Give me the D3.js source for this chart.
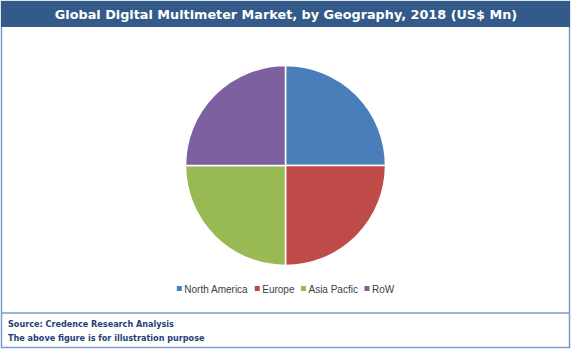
<!DOCTYPE html>
<html>
<head>
<meta charset="utf-8">
<script src="https://cdn.jsdelivr.net/npm/d3@7"></script>
<style>
  body { margin: 0; background: #fff; }
</style>
</head>
<body>
<div id="chart"></div>
<script>
// chart data
const regions = ["North America", "Europe", "Asia Pacfic", "RoW"];
const shares = [25, 25, 25, 25];
const regionColors = ["#4a7ebb", "#be4b48", "#98b954", "#7d60a0"];

const titleText = "Global Digital Multimeter Market, by Geography, 2018 (US$ Mn)";
const notes = ["Source: Credence Research Analysis", "The above figure is for illustration purpose"];

function makeChart(containerSelector) {
    const width = 572;
    const height = 351;

    d3.select(containerSelector).html("");

    const svg = d3.select(containerSelector)
        .append("svg")
        .attr("width", width)
        .attr("height", height)
        .attr("xmlns", "http://www.w3.org/2000/svg");

    // outer frame
    svg.append("rect")
        .attr("x", 1.5).attr("y", 1.5)
        .attr("width", 568).attr("height", 346)
        .attr("fill", "#fff")
        .attr("stroke", "#7b9bcb")
        .attr("stroke-width", 1.5);

    // title band
    svg.append("rect")
        .attr("x", 1).attr("y", 1)
        .attr("width", 569).attr("height", 26)
        .attr("fill", "#345a8a");

    svg.append("text")
        .attr("x", 286).attr("y", 19)
        .attr("text-anchor", "middle")
        .style("font-family", "DejaVu Sans, Verdana, sans-serif")
        .style("font-size", "12.8px")
        .style("font-weight", "bold")
        .style("fill", "#fff")
        .text(titleText);

    // pie
    const cx = 285.5, cy = 165.5, radius = 100;
    const pie = d3.pie().sort(null).value(d => d.value);
    const arc = d3.arc().innerRadius(0).outerRadius(radius);
    const pieData = regions.map((r, i) => ({ name: r, value: shares[i], color: regionColors[i] }));

    svg.append("g")
        .attr("transform", `translate(${cx},${cy})`)
        .selectAll("path")
        .data(pie(pieData))
        .enter()
        .append("path")
        .attr("d", arc)
        .attr("fill", d => d.data.color)
        .attr("stroke", "#fff")
        .attr("stroke-width", 1.5);

    // legend
    const legendFont = "10px 'Liberation Sans', Arial, sans-serif";
    const ctx = document.createElement("canvas").getContext("2d");
    ctx.font = legendFont;
    const box = 5, gap = 2.5, itemGap = 6.5;
    const itemWidths = regions.map(r => box + gap + ctx.measureText(r).width);
    const total = d3.sum(itemWidths) + itemGap * (regions.length - 1);
    let lx = 285.5 - total / 2;
    const ly = 289;
    const legend = svg.append("g");
    regions.forEach((r, i) => {
        legend.append("rect")
            .attr("x", lx).attr("y", ly - 3)
            .attr("width", box).attr("height", box)
            .attr("fill", regionColors[i]);
        legend.append("text")
            .attr("x", lx + box + gap).attr("y", ly + 3.5)
            .style("font", legendFont)
            .style("fill", "#404040")
            .text(r);
        lx += itemWidths[i] + itemGap;
    });

    // footer
    svg.append("line")
        .attr("x1", 1).attr("x2", 570)
        .attr("y1", 313).attr("y2", 313)
        .attr("stroke", "#7b9bcb")
        .attr("stroke-width", 1.5);

    notes.forEach((t, i) => {
        svg.append("text")
            .attr("x", 8).attr("y", 327 + i * 14)
            .style("font-family", "'DejaVu Sans Condensed', 'DejaVu Sans', sans-serif")
            .style("font-stretch", "condensed")
            .style("font-size", "9px")
            .style("font-weight", "bold")
            .style("fill", "#1f3f75")
            .text(t);
    });

    return svg.node();
}

makeChart("#chart");
</script>
</body>
</html>
